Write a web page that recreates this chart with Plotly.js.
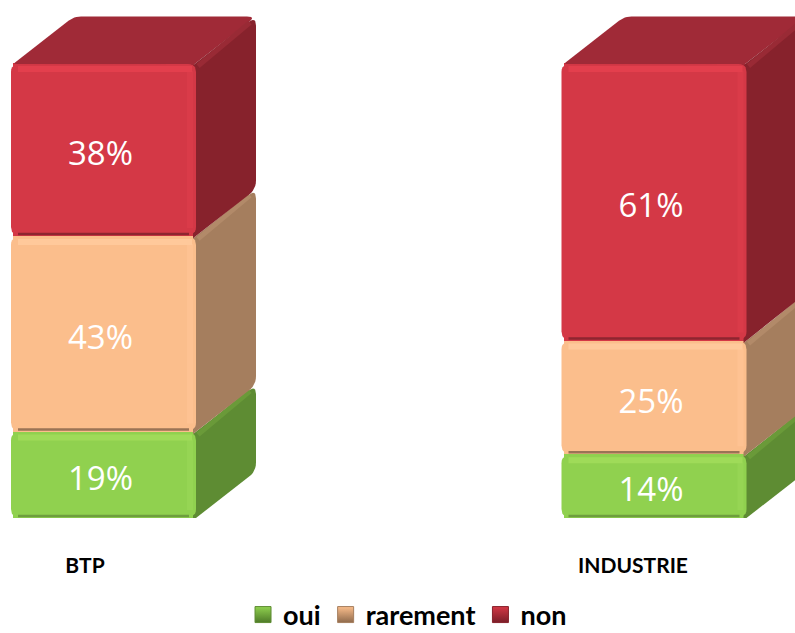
<!DOCTYPE html>
<html><head><meta charset="utf-8">
<script src="https://cdn.plot.ly/plotly-3.0.1.min.js"></script>
<style>html,body{margin:0;padding:0;background:#fff}#c{width:795px;height:633px}</style>
</head><body><div id="c"></div>
<script>
const categories = ['BTP', 'INDUSTRIE'];
const seriesNames = ['oui', 'rarement', 'non'];
const oui = [19, 14];
const rarement = [43, 25];
const non = [38, 61];
const seriesValues = [oui, rarement, non];

const frontColors = ['#90D14F', '#FBBE8C', '#D43846'];
const sideColors  = ['#5E8C33', '#A57E5E', '#87222C'];
const topHi       = ['#9FDB59', '#FFC99B', '#E33F4D'];
const sideHi      = ['#6A9A39', '#B28A69', '#992A35'];
const edgeLo      = ['#6E9E3E', '#9A7355', '#8E2530'];
const rightHi     = ['#96D554', '#FEC292', '#DA3B49'];
const legendDark  = ['#4E7A28', '#8F6A4C', '#7A1E28'];
const topFace = '#A02A37';

// scale helpers: pixels per data unit
const W = 795, H = 633, mb = 115, pxX = 550.5, pxY = 4.55;
const x0px = 103.5;
const xRange = [-x0px / pxX, (W - x0px) / pxX];
const yRange = [0, (H - mb) / pxY];
const barW = 185 / pxX, dx = 60 / pxX, dy = 46.5 / pxY;
const px = v => v / pxX, py = v => v / pxY;

const traces = [];
const pos = categories.map((_, i) => i);

seriesValues.forEach((vals, s) => {
  traces.push({
    type: 'bar', x: pos, y: vals, width: barW - px(4), showlegend: false,
    marker: {color: frontColors[s], line: {width: 0}}, hoverinfo: 'skip'
  });
});

// polygon with individually rounded corners (radius in pixels)
function poly(points, radii, color) {
  const xs = [], ys = [], n = points.length;
  points.forEach((p, i) => {
    const a = points[(i + n - 1) % n], b = points[(i + 1) % n], r = radii[i];
    if (!r) { xs.push(p[0]); ys.push(p[1]); return; }
    const toward = q => {
      const ax = (q[0] - p[0]) * pxX, ay = (q[1] - p[1]) * pxY, d = Math.hypot(ax, ay);
      const t = Math.min(r, d / 2) / d;
      return [p[0] + (q[0] - p[0]) * t, p[1] + (q[1] - p[1]) * t];
    };
    const s1 = toward(a), s2 = toward(b);
    for (let k = 0; k <= 6; k++) {
      const t = k / 6, u = 1 - t;
      xs.push(u * u * s1[0] + 2 * u * t * p[0] + t * t * s2[0]);
      ys.push(u * u * s1[1] + 2 * u * t * p[1] + t * t * s2[1]);
    }
  });
  xs.push(xs[0]); ys.push(ys[0]);
  traces.push({type: 'scatter', mode: 'lines', x: xs, y: ys, fill: 'toself', fillcolor: color,
    line: {color: color, width: 0}, showlegend: false, hoverinfo: 'skip'});
}
function stroke(xs, ys, color, w) {
  traces.push({type: 'scatter', mode: 'lines', x: xs, y: ys, line: {color: color, width: w},
    showlegend: false, hoverinfo: 'skip'});
}

pos.forEach(i => {
  const xl = i - barW / 2, xr = i + barW / 2;
  const back = 3, drop = py(back * 46.5 / 60);
  // depth faces first
  let base = 0;
  seriesValues.forEach((vals, s) => {
    const y0 = base, y1 = base + vals[i];
    if (s === seriesValues.length - 1) {
      poly([[xl + px(2), y1 - py(1)], [xl + dx + px(3), y1 + dy], [xr + dx, y1 + dy], [xr - px(back), y1 - drop]],
           [3, 7, 9, 0], topFace);
    }
    poly([[xr - px(back), y0 - drop], [xr + dx, y0 + dy], [xr + dx, y1 + dy], [xr - px(back), y1 - drop]],
         [0, 9, 9, 0], sideColors[s]);
    stroke([xr + px(2), xr + dx - px(6)], [y1 - py(3), y1 + dy - py(6)], sideHi[s], 5);
    base = y1;
  });
  // rounded front faces with bevels
  base = 0;
  seriesValues.forEach((vals, s) => {
    const y0 = base, y1 = base + vals[i];
    poly([[xl, y0 + py(1)], [xr, y0 + py(1)], [xr, y1 - py(1)], [xl, y1 - py(1)]], [8, 8, 8, 8], frontColors[s]);
    stroke([xr - px(6), xr - px(6)], [y0 + py(8), y1 - py(8)], rightHi[s], 6);
    stroke([xl + px(7), xr - px(4)], [y1 - py(6), y1 - py(6)], topHi[s], 6);
    stroke([xl + px(7), xr - px(7)], [y0 + py(2), y0 + py(2)], edgeLo[s], 2.5);
    base = y1;
  });
});

// value labels, centred on each front face
let stackBase = categories.map(() => 0);
seriesValues.forEach(vals => {
  traces.push({type: 'scatter', mode: 'text', x: pos.map(p => p - px(3)),
    y: vals.map((v, i) => stackBase[i] + v / 2 - py(7)), text: vals.map(v => v + '%'),
    textposition: 'middle center', textfont: {family: 'Open Sans', size: 33, color: '#fff'},
    showlegend: false, hoverinfo: 'skip'});
  stackBase = stackBase.map((b, i) => b + vals[i]);
});

// legend entries
seriesNames.forEach((name, s) => {
  traces.push({type: 'scatter', mode: 'markers', x: [null], y: [null], name: name,
    marker: {symbol: 'square', size: 17, color: frontColors[s],
      gradient: {type: 'vertical', color: legendDark[s]}, line: {color: sideColors[s], width: 1}},
    hoverinfo: 'skip'});
});

const layout = {
  width: W, height: H, margin: {l: 0, r: 0, t: 0, b: mb, pad: 0, autoexpand: false},
  paper_bgcolor: '#fff', plot_bgcolor: '#fff', barmode: 'stack', bargap: 0,
  font: {family: 'Lato', color: '#000'},
  xaxis: {type: 'linear', range: xRange, showgrid: false, zeroline: false, showline: false,
    tickmode: 'array', tickvals: [px(-18.5), 1 - px(21)], ticktext: categories,
    ticks: 'outside', ticklen: 29, tickcolor: 'rgba(0,0,0,0)',
    tickfont: {family: 'Lato', size: 21, weight: 'bold', color: '#000'}},
  yaxis: {range: yRange, visible: false, fixedrange: true},
  legend: {orientation: 'h', x: 0.5126, xanchor: 'center', y: -0.14, yanchor: 'top',
    font: {family: 'Lato', size: 27, weight: 'bold', color: '#000'},
    traceorder: 'normal', itemsizing: 'trace', bgcolor: 'rgba(0,0,0,0)'},
  showlegend: true, hovermode: false
};
Plotly.newPlot('c', traces, layout, {displayModeBar: false, staticPlot: true});
</script></body></html>
